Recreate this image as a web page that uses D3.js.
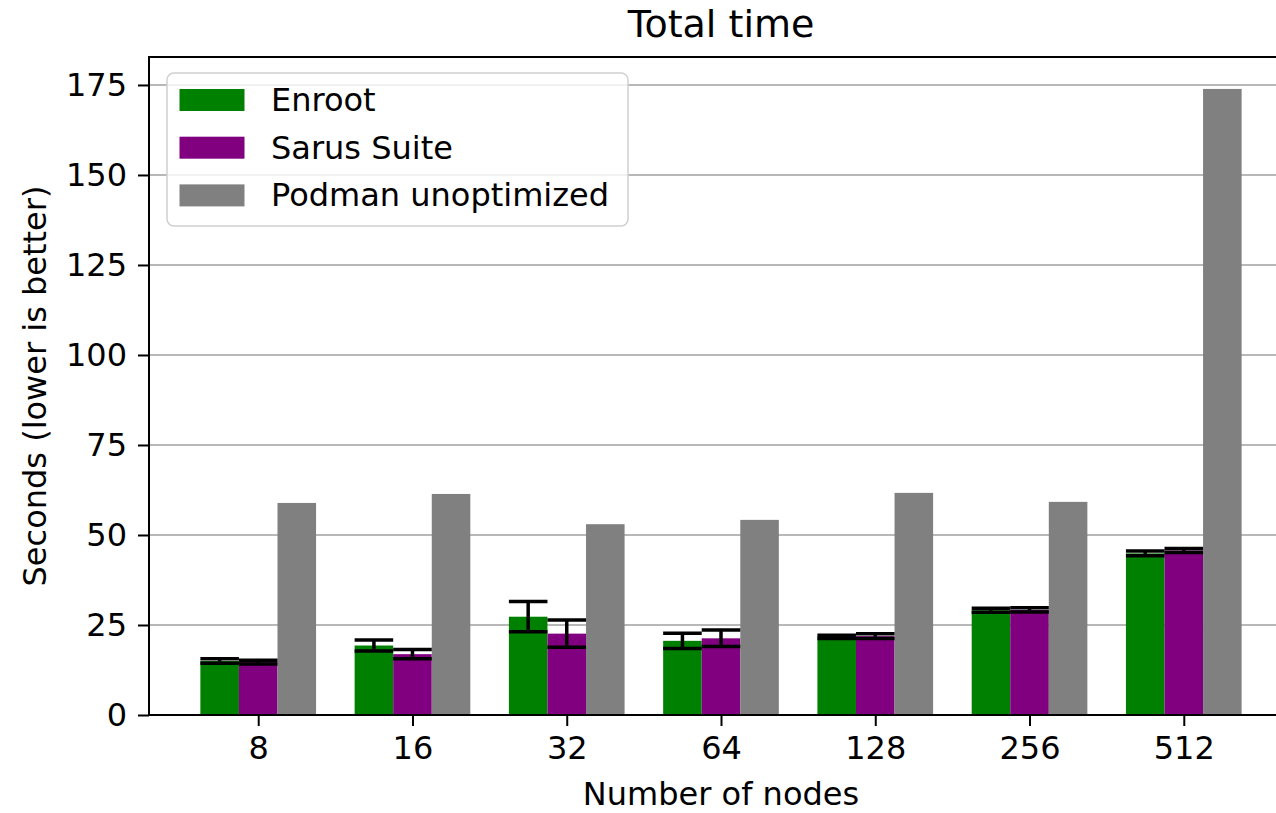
<!DOCTYPE html>
<html>
<head>
<meta charset="utf-8">
<script src="https://cdn.jsdelivr.net/npm/d3@7"></script>
<style>
  body { margin: 0; background: #fff; }
  text { font-family: "DejaVu Sans", sans-serif; fill: #000; }
</style>
</head>
<body>
<div id="viz-container"></div>
<script>
// values
const nodes = ["8", "16", "32", "64", "128", "256", "512"];
const enroot = [15.0, 19.3, 27.3, 20.6, 21.7, 29.1, 44.9];
const enrootErr = [0.6, 1.5, 4.2, 2.1, 0.45, 0.55, 0.65];
const sarus = [14.7, 16.9, 22.6, 21.3, 21.9, 29.2, 45.7];
const sarusErr = [0.5, 1.3, 3.8, 2.3, 0.65, 0.6, 0.55];
const podman = [58.9, 61.4, 53.0, 54.2, 61.7, 59.2, 173.9];
const yTicks = [0, 25, 50, 75, 100, 125, 150, 175];

const series = [
    { name: "Enroot", color: "#008000", values: enroot, err: enrootErr },
    { name: "Sarus Suite", color: "#800080", values: sarus, err: sarusErr },
    { name: "Podman unoptimized", color: "#808080", values: podman, err: null }
];

const W = 1276, H = 813;
const margin = { top: 57, left: 149, bottom: 98 };
const plotRight = 1293;           // right spine falls just outside the picture
const height = H - margin.top - margin.bottom;

const svg = d3.select("#viz-container")
    .append("svg")
    .attr("width", W)
    .attr("height", H);

svg.append("rect").attr("width", W).attr("height", H).attr("fill", "#fff");

// scales
const x = d3.scalePoint()
    .domain(nodes)
    .range([margin.left, plotRight])
    .padding(0.708);

const barW = x.step() * 0.25;

const yMax = d3.max(podman) * 1.051;
const y = d3.scaleLinear()
    .domain([0, yMax])
    .range([margin.top + height, margin.top]);

// grid
svg.append("g")
    .selectAll("line")
    .data(yTicks)
    .join("line")
    .attr("x1", margin.left)
    .attr("x2", plotRight)
    .attr("y1", d => y(d))
    .attr("y2", d => y(d))
    .attr("stroke", "#b8b8b8")
    .attr("stroke-width", 2);

// bars
series.forEach((s, i) => {
    const off = (i - 1) * barW;
    svg.append("g")
        .selectAll("rect")
        .data(s.values)
        .join("rect")
        .attr("x", (d, j) => x(nodes[j]) + off - barW / 2)
        .attr("width", barW)
        .attr("y", d => y(d))
        .attr("height", d => y(0) - y(d))
        .attr("fill", s.color);
});

// error bars
series.filter(s => s.err).forEach(s => {
    const i = series.indexOf(s);
    const off = (i - 1) * barW;
    const g = svg.append("g").attr("stroke", "#000").attr("stroke-width", 3.5);
    s.values.forEach((v, j) => {
        const cx = x(nodes[j]) + off;
        const lo = y(v - s.err[j]), hi = y(v + s.err[j]);
        g.append("line").attr("x1", cx).attr("x2", cx).attr("y1", lo).attr("y2", hi);
        g.append("line").attr("x1", cx - barW / 2).attr("x2", cx + barW / 2).attr("y1", lo).attr("y2", lo);
        g.append("line").attr("x1", cx - barW / 2).attr("x2", cx + barW / 2).attr("y1", hi).attr("y2", hi);
    });
});

// axes
const xAxis = svg.append("g")
    .attr("transform", `translate(0,${y(0)})`)
    .call(d3.axisBottom(x).tickSizeInner(11).tickSizeOuter(0).tickPadding(10));

const yAxis = svg.append("g")
    .attr("transform", `translate(${margin.left},0)`)
    .call(d3.axisLeft(y).tickValues(yTicks).tickSizeInner(11).tickSizeOuter(0).tickPadding(11));

[xAxis, yAxis].forEach(a => {
    a.select(".domain").remove();
    a.selectAll(".tick line").attr("stroke", "#000").attr("stroke-width", 2);
    a.selectAll(".tick text").attr("font-size", "32px").attr("font-family", "DejaVu Sans");
});

// spines
svg.append("rect")
    .attr("x", margin.left)
    .attr("y", margin.top)
    .attr("width", plotRight - margin.left)
    .attr("height", height)
    .attr("fill", "none")
    .attr("stroke", "#000")
    .attr("stroke-width", 2);

// legend
const leg = svg.append("g").attr("transform", "translate(167,73)");
leg.append("rect")
    .attr("width", 461)
    .attr("height", 153)
    .attr("rx", 7)
    .attr("fill", "#fff")
    .attr("fill-opacity", 0.8)
    .attr("stroke", "#d0d0d0")
    .attr("stroke-width", 1.5);

series.forEach((s, i) => {
    leg.append("rect")
        .attr("x", 12.5)
        .attr("y", 16 + i * 47.7)
        .attr("width", 65)
        .attr("height", 22)
        .attr("fill", s.color);
    leg.append("text")
        .attr("x", 104)
        .attr("y", 38 + i * 47.7)
        .attr("font-size", "32px")
        .text(s.name);
});

// title & labels
svg.append("text")
    .attr("x", (margin.left + plotRight) / 2)
    .attr("y", 37)
    .attr("text-anchor", "middle")
    .attr("font-size", "38px")
    .text("Total time");

svg.append("text")
    .attr("x", (margin.left + plotRight) / 2)
    .attr("y", 805)
    .attr("text-anchor", "middle")
    .attr("font-size", "32px")
    .text("Number of nodes");

svg.append("text")
    .attr("transform", `translate(46,${margin.top + height / 2}) rotate(-90)`)
    .attr("text-anchor", "middle")
    .attr("font-size", "32px")
    .text("Seconds (lower is better)");
</script>
</body>
</html>
